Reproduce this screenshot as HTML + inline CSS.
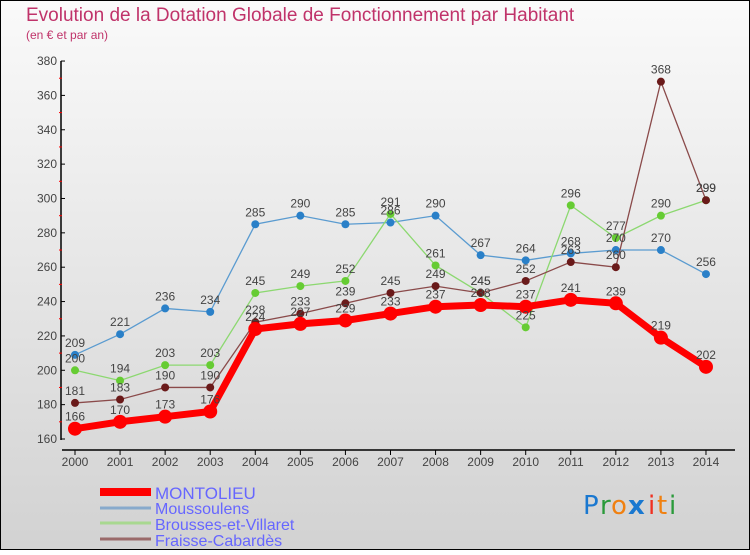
<!DOCTYPE html>
<html><head><meta charset="utf-8"><style>
html,body{margin:0;padding:0}
body{width:750px;height:550px;overflow:hidden;font-family:"Liberation Sans",sans-serif}
</style></head><body>
<svg id="chart" width="750" height="550" xmlns="http://www.w3.org/2000/svg">
<defs><linearGradient id="bg" x1="0" y1="0" x2="0" y2="1"><stop offset="0" stop-color="#fafafa"/><stop offset="1" stop-color="#d2d2d2"/></linearGradient></defs>
<rect x="0.5" y="0.5" width="749" height="549" fill="url(#bg)" stroke="#000"/>
<text x="26" y="21" font-size="19" fill="#c0336a">Evolution de la Dotation Globale de Fonctionnement par Habitant</text>
<text x="26" y="39" font-size="12" fill="#c0336a">(en € et par an)</text>
<g id="axes"></g><g id="series"></g><g id="labels"></g>
<g>
<line x1="100" y1="492" x2="151" y2="492" stroke="#f00" stroke-width="8"/>
<text x="155" y="499" font-size="17" fill="#6666ff">MONTOLIEU</text>
<line x1="100" y1="508" x2="151" y2="508" stroke="#88aacc" stroke-width="3"/>
<text x="155" y="514" font-size="16" fill="#6666ff">Moussoulens</text>
<line x1="100" y1="523" x2="151" y2="523" stroke="#a8d890" stroke-width="3"/>
<text x="155" y="530" font-size="16" fill="#6666ff">Brousses-et-Villaret</text>
<line x1="100" y1="539" x2="151" y2="539" stroke="#9a6a6a" stroke-width="3"/>
<text x="155" y="546" font-size="16" fill="#6666ff">Fraisse-Cabardès</text>
</g>
<g font-size="26" font-family="'DejaVu Sans',sans-serif">
<text x="583" y="514" fill="#1a78d0">P</text><text x="600" y="514" fill="#2a9a3a">r</text><text x="611" y="514" fill="#f08010">o</text><text x="628" y="514" fill="#1a78d0" font-weight="bold">x</text><text x="648" y="514" fill="#f03020">i</text><text x="657" y="514" fill="#f08010">t</text><text x="669" y="514" fill="#2a9a3a">i</text>
</g>
</svg>
<script>
const years=[2000,2001,2002,2003,2004,2005,2006,2007,2008,2009,2010,2011,2012,2013,2014];
const montolieu=[166,170,173,176,224,227,229,233,237,238,237,241,239,219,202];
const moussoulens=[209,221,236,234,285,290,285,286,290,267,264,268,270,270,256];
const brousses=[200,194,203,203,245,249,252,291,261,245,225,296,277,290,299];
const fraisse=[181,183,190,190,228,233,239,245,249,245,252,263,260,368,299];
const yTicks=[160,180,200,220,240,260,280,300,320,340,360,380];
const NS="http://www.w3.org/2000/svg";
const xS=i=>75+i*45.07;
const yS=v=>439-(v-160)*1.718;
function mk(tag,attrs,parent){const e=document.createElementNS(NS,tag);for(const k in attrs)e.setAttribute(k,attrs[k]);parent.appendChild(e);return e;}
const axes=document.getElementById('axes'),ser=document.getElementById('series'),lab=document.getElementById('labels');
let a=mk('line',{x1:61,y1:61,x2:61,y2:440,stroke:'#000','stroke-width':1.5},axes);


yTicks.forEach((t,k)=>{
 mk('line',{x1:61,y1:yS(t),x2:65,y2:yS(t),stroke:'#000'},axes);
 if(k<yTicks.length-1) mk('line',{x1:59,y1:yS(t+10),x2:62,y2:yS(t+10),stroke:'#f00'},axes);
 const tx=mk('text',{x:57,y:yS(t)+4,'font-size':12,fill:'#444','text-anchor':'end'},axes);tx.textContent=t;
 
 
});
let b=mk('line',{x1:62,y1:450,x2:735,y2:450,stroke:'#000','stroke-width':1.5},axes);


years.forEach((y,i)=>{
 mk('line',{x1:xS(i),y1:450,x2:xS(i),y2:455,stroke:'#000'},axes);
 const tx=mk('text',{x:xS(i),y:466,'font-size':12,fill:'#444','text-anchor':'middle'},axes);tx.textContent=y;
 
 
});
function draw(data,name,color,dot,w,r){
 const pts=data.map((v,i)=>xS(i)+','+yS(v)).join(' ');
 const pl=mk('polyline',{points:pts,fill:'none',stroke:color,'stroke-width':w},ser);
 
 
 data.forEach((v,i)=>{
  const c=mk('circle',{cx:xS(i),cy:yS(v),r:r,fill:dot},ser);
  
  
  const t=mk('text',{x:xS(i),y:yS(v)-8,'font-size':12,fill:'#444','text-anchor':'middle'},lab);t.textContent=v;
  
  
 });
}
draw(moussoulens,'moussoulens','#5a9bd0','#2a80c8',1.3,4);
draw(brousses,'brousses','#8cd870','#66cc33',1.3,4);
draw(fraisse,'fraisse','#8a4a4a','#6a1a1a',1.3,4);
draw(montolieu,'montolieu','#ff0000','#ff0000',7,7);
</script>
</body></html>
